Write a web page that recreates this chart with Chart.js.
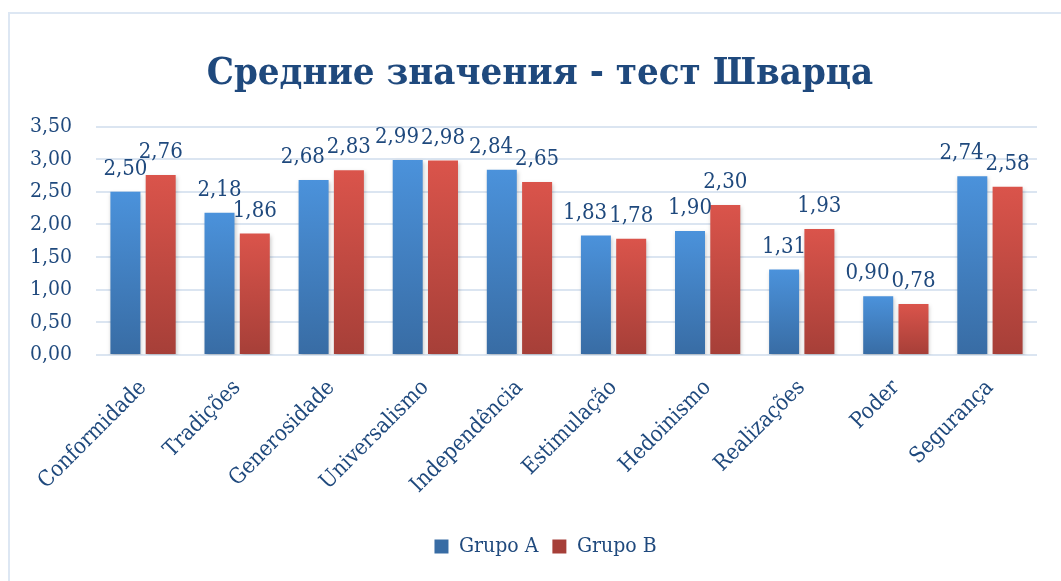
<!DOCTYPE html>
<html lang="ru">
<head>
<meta charset="UTF-8">
<title>Средние значения - тест Шварца</title>
<script src="https://cdn.jsdelivr.net/npm/chart.js"></script>
<style>
  body { margin: 0; background: #fff; }
  #frame { position: absolute; left: 8px; top: 12px; width: 1200px; height: 700px; border: 2px solid #dde7f3; }
  #wrap { position: absolute; left: 0; top: 0; width: 1061px; height: 581px; }
</style>
</head>
<body>
<div id="frame"></div>
<div id="wrap"><canvas id="chart" width="1061" height="581"></canvas></div>
<script>
  // categorias e valores
  const categories = ['Conformidade', 'Tradições', 'Generosidade', 'Universalismo', 'Independência',
                      'Estimulação', 'Hedoinismo', 'Realizações', 'Poder', 'Segurança'];
  const grupoA = [2.50, 2.18, 2.68, 2.99, 2.84, 1.83, 1.90, 1.31, 0.90, 2.74];
  const grupoB = [2.76, 1.86, 2.83, 2.98, 2.65, 1.78, 2.30, 1.93, 0.78, 2.58];
  const yTicks = [0, 0.5, 1, 1.5, 2, 2.5, 3, 3.5];

  const textColor = '#1f497d';
  const serif = "'DejaVu Serif Condensed', 'DejaVu Serif', serif";

  const fmt = v => v.toFixed(2).replace('.', ',');

  // degradê por barra (claro em cima, escuro em baixo)
  function barGradient(top, bottom, solid) {
    return function(context) {
      const chart = context.chart;
      if (!chart.chartArea || !context.parsed) return solid;
      const y = chart.scales.y;
      const yTop = y.getPixelForValue(context.parsed.y);
      const yBot = y.getPixelForValue(0);
      const g = chart.ctx.createLinearGradient(0, yTop, 0, yBot);
      g.addColorStop(0, top);
      g.addColorStop(1, bottom);
      return g;
    };
  }

  // título e legenda centrados na largura toda, como no original
  const recenter = {
    id: 'recenter',
    afterLayout(chart) {
      chart.titleBlock.left = 19;
      chart.titleBlock.right = 1061;
      chart.legend.left += 27;
      chart.legend.right += 27;
    }
  };

  // rótulos de valor acima das barras (afasta o de A quando se sobrepõem)
  const valueLabels = {
    id: 'valueLabels',
    afterDatasetsDraw(chart) {
      const ctx = chart.ctx;
      ctx.save();
      ctx.font = '22px ' + serif;
      ctx.fillStyle = textColor;
      ctx.textAlign = 'center';
      ctx.textBaseline = 'alphabetic';
      const metaA = chart.getDatasetMeta(0).data;
      const metaB = chart.getDatasetMeta(1).data;
      categories.forEach((c, j) => {
        const a = metaA[j], b = metaB[j];
        const tA = fmt(grupoA[j]), tB = fmt(grupoB[j]);
        const wA = ctx.measureText(tA).width, wB = ctx.measureText(tB).width;
        let xA = a.x;
        if (Math.abs(a.y - b.y) < 14) {
          const overlap = (a.x + wA / 2) - (b.x - wB / 2) + 2;
          if (overlap > 0) xA -= overlap;
        }
        ctx.fillText(tA, xA, a.y - 17);
        ctx.fillText(tB, b.x, b.y - 17);
      });
      ctx.restore();
    }
  };

  // sombra leve nas barras
  const barShadow = {
    id: 'barShadow',
    beforeDatasetsDraw(chart) {
      const ctx = chart.ctx;
      ctx.save();
      ctx.shadowColor = 'rgba(0,0,0,0.22)';
      ctx.shadowBlur = 4;
      ctx.shadowOffsetX = 1;
      ctx.shadowOffsetY = 2;
    },
    afterDatasetsDraw(chart) {
      chart.ctx.restore();
    }
  };

  const ctx = document.getElementById('chart').getContext('2d');
  new Chart(ctx, {
    type: 'bar',
    data: {
      labels: categories,
      datasets: [
        {
          label: 'Grupo A',
          data: grupoA,
          backgroundColor: barGradient('#4b92db', '#386ca4', '#4680c2'),
          categoryPercentage: 0.75,
          barPercentage: 0.85
        },
        {
          label: 'Grupo B',
          data: grupoB,
          backgroundColor: barGradient('#da544b', '#a63f38', '#c94b43'),
          categoryPercentage: 0.75,
          barPercentage: 0.85
        }
      ]
    },
    options: {
      responsive: false,
      animation: false,
      layout: { padding: { left: 0, right: 24, top: 0, bottom: 14 } },
      plugins: {
        title: {
          display: true,
          text: 'Средние значения - тест Шварца',
          color: '#1f497d',
          font: { family: serif, size: 38, weight: 'bold' },
          padding: { top: 51, bottom: 30 }
        },
        legend: {
          position: 'bottom',
          labels: {
            color: textColor,
            font: { family: serif, size: 21 },
            boxWidth: 14,
            boxHeight: 14,
            padding: 14
          }
        },
        tooltip: { enabled: false }
      },
      scales: {
        x: {
          grid: { display: false },
          border: { display: false },
          ticks: {
            color: textColor,
            font: { family: serif, size: 22 },
            minRotation: 45,
            maxRotation: 45,
            padding: 12
          },
          afterFit(scale) { scale.height = 167; }
        },
        y: {
          min: 0,
          max: 3.5,
          afterBuildTicks(scale) { scale.ticks = yTicks.map(v => ({ value: v })); },
          grid: { color: '#dbe5f1', lineWidth: 2, drawTicks: false },
          border: { display: false },
          ticks: {
            color: textColor,
            font: { family: serif, size: 21 },
            padding: 24,
            callback: v => fmt(v)
          },
          afterFit(scale) { scale.width = 96; }
        }
      }
    },
    plugins: [recenter, barShadow, valueLabels]
  });
</script>
</body>
</html>
